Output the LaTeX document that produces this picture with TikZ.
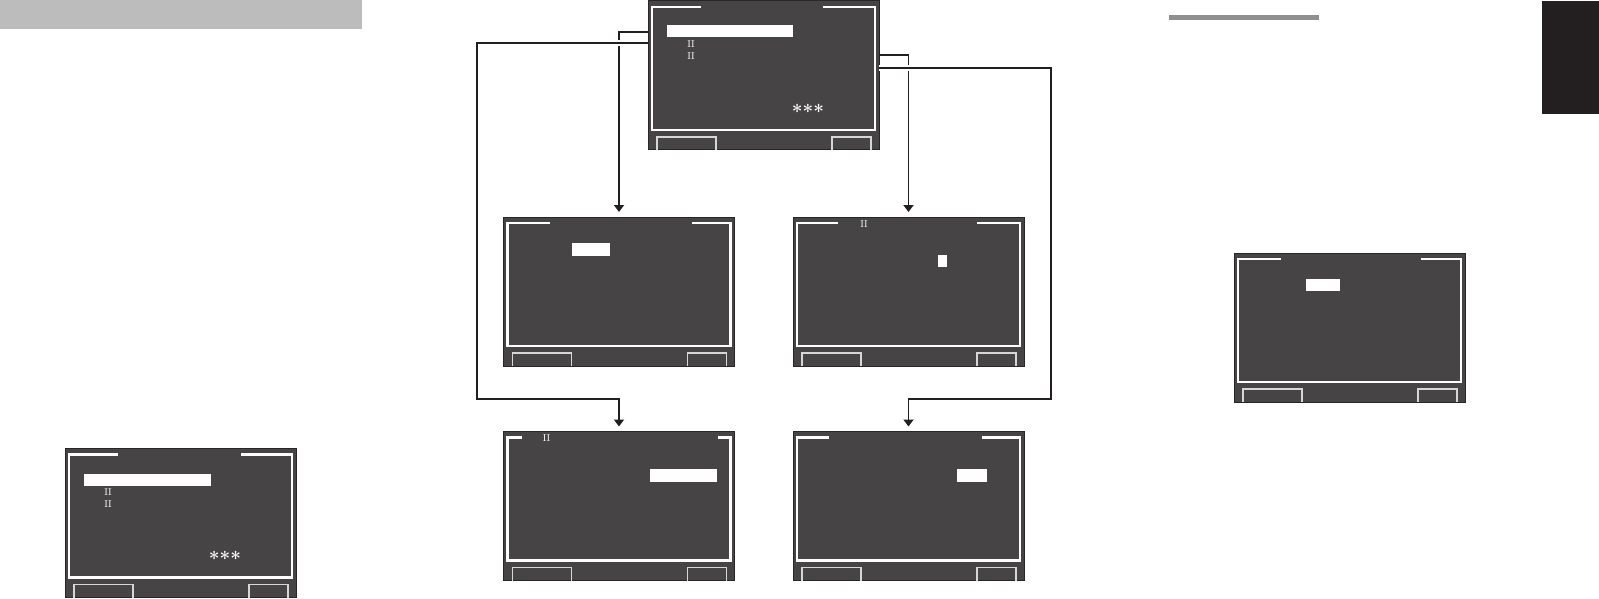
\documentclass[tikz,border=0pt]{standalone}
\usetikzlibrary{arrows.meta,calc}
\definecolor{scrfill}{RGB}{70,68,69}
\definecolor{scredge}{RGB}{40,38,39}
\definecolor{ink}{RGB}{35,31,32}
\definecolor{btngray}{RGB}{215,215,215}
\definecolor{barlight}{RGB}{188,188,188}
\definecolor{barmid}{RGB}{143,143,143}
\tikzset{
 screen/.style={draw=scredge, line width=1pt, fill=scrfill, minimum width=231pt, minimum height=149pt, inner sep=0pt, outer sep=0pt, anchor=north west},
 frameline/.style={draw=white, line width=2.2pt},
 btnline/.style={draw=btngray, line width=1.4pt},
 hilite/.style={fill=white},
 conn/.style={draw=ink, line width=1.8pt, -{Triangle[length=7pt,width=10pt]}, shorten >=5pt},
 overconn/.style={conn, preaction={draw=white, line width=6pt, -, shorten >=12pt}},
 numtext/.style={text=white, font=\fontsize{10}{10}\selectfont, inner sep=0pt},
 startext/.style={text=white, font=\fontsize{19}{19}\bfseries\selectfont, inner sep=0pt},
}
\newcommand\drawscreen[5]{%
 \node[screen] (#1) at (#2,#3) {};
 \begin{scope}[shift={(#1.north west)}]
 \draw[frameline] (#4,6) -- (4,6) -- (4,129) -- (227,129) -- (227,6) -- (#5,6);
 \draw[btnline] (9,149) -- (9,136) -- (68,136) -- (68,149);
 \draw[btnline] (184,149) -- (184,136) -- (223,136) -- (223,149);
 \end{scope}}
\newcommand\hlbar[5]{%
 \fill[hilite] ($(#1.north west)+(#2,#3)$) rectangle ($(#1.north west)+(#4,#5)$);}
\begin{document}
\begin{tikzpicture}[x=1pt,y=-1pt]
\useasboundingbox (0,0) rectangle (1599,599);
% page decorations
\fill[barlight] (0,0) rectangle (361.7,28.7);
\fill[barmid] (1169,15) rectangle (1319,20);
\fill[ink] (1542,1) rectangle (1599,114);
% screens
\drawscreen{top}{648}{1}{53}{175}
\drawscreen{midL}{503.5}{217}{46}{188}
\drawscreen{midR}{793}{217}{45}{184}
\drawscreen{botL}{503.5}{431.5}{18}{214}
\drawscreen{botR}{793}{431.5}{36}{189}
\drawscreen{rgt}{1234}{253}{47}{187}
\drawscreen{lft}{65}{448.5}{53}{176}
% highlights
\hlbar{top}{19}{24}{145}{36}
\hlbar{midL}{68}{26}{106}{38.5}
\hlbar{midR}{145}{38}{154}{49.5}
\hlbar{botL}{146}{37.5}{213}{50}
\hlbar{botR}{164}{37.5}{194}{50}
\hlbar{rgt}{72}{26}{106}{37.5}
\hlbar{lft}{19}{25.5}{146}{37}
% texts
\node[numtext] (topA) at ($(top.north west)+(43,43)$) {II};
\node[numtext] (topB) at ($(top.north west)+(43,55)$) {II};
\node[startext] (topS) at ($(top.north west)+(160,110)$) {***};
\node[numtext] (midRA) at ($(midR.north west)+(71,7)$) {II};
\node[numtext] (botLA) at ($(botL.north west)+(43,7)$) {II};
\node[numtext] (lftA) at ($(lft.north west)+(43,44)$) {II};
\node[numtext] (lftB) at ($(lft.north west)+(43,55.6)$) {II};
\node[startext] (lftS) at ($(lft.north west)+(160,110)$) {***};
% connectors
\coordinate (bendL) at (476.7,399);
\coordinate (bendR) at (1050.7,399);
\draw[conn] (top.west |- {(0,31.7)}) -| (midL.north);
\draw[conn] (top.east |- {(0,55)}) -| (midR.north);
\draw[overconn] (top.west |- {(0,43.3)}) -| (bendL) -| (botL.north);
\draw[overconn] (top.east |- {(0,68.3)}) -| (bendR) -| (botR.north);
\end{tikzpicture}
\end{document}
